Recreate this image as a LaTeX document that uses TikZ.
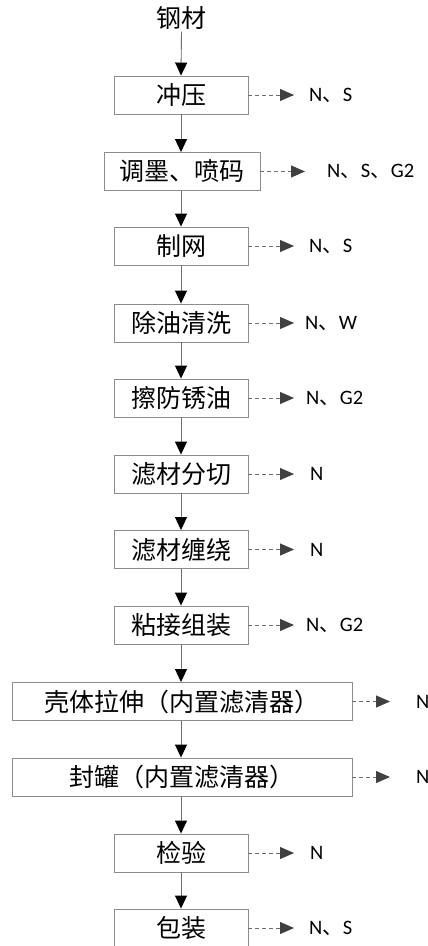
\documentclass[tikz,border=0pt]{standalone}
\usepackage{fontspec}
\setmainfont{Noto Sans CJK SC}
\newfontfamily\lat{Carlito}
\newfontfamily\cjk{Noto Sans CJK SC}
\usetikzlibrary{arrows.meta}
\definecolor{linegray}{HTML}{6E6E6E}
\definecolor{boxgray}{HTML}{8C8C8C}
\definecolor{tipgray}{HTML}{404040}
\newcommand{\dn}{{\cjk 、}}
\begin{document}
\begin{tikzpicture}[x=1pt,y=-1pt,
  proc/.style={draw=boxgray, line width=0.9pt, minimum height=38pt, inner sep=0pt,
    font=\fontsize{25}{25}\selectfont},
  narrow/.style={proc, minimum width=134pt},
  flow/.style={draw=linegray, line width=0.9pt, -{Triangle[length=13pt,width=12pt,color=black]}},
  emit/.style={draw=linegray, line width=0.9pt, dash pattern=on 4pt off 3pt,
    -{Triangle[length=14pt,width=12pt,color=tipgray]}},
  lab/.style={anchor=west, inner sep=0pt, font=\lat\fontsize{20.5}{20.5}\selectfont}]
\useasboundingbox (0,0) rectangle (428,946);

\node[inner sep=0pt, font=\fontsize{25}{25}\selectfont] (s0) at (181.5,18) {钢材};
\node[narrow] (b1) at (181,95) {冲压};
\node[proc, minimum width=156pt] (b2) at (182,171.5) {调墨、喷码};
\node[narrow] (b3) at (181,246) {制网};
\node[narrow] (b4) at (181,323) {除油清洗};
\node[narrow] (b5) at (181,398) {擦防锈油};
\node[narrow] (b6) at (181,474) {滤材分切};
\node[narrow] (b7) at (181,549.5) {滤材缠绕};
\node[narrow] (b8) at (181,625) {粘接组装};
\node[proc, minimum width=340pt] (b9) at (182,701.5) {壳体拉伸（内置滤清器）};
\node[proc, minimum width=340pt] (b10) at (182,777) {封罐（内置滤清器）};
\node[narrow] (b11) at (181,853) {检验};
\node[narrow] (b12) at (181,928) {包装};

\node[lab] (l1) at (309,95) {N\dn S};
\node[lab] (l2) at (327,171.5) {N\dn S\dn G2};
\node[lab] (l3) at (309,246) {N\dn S};
\node[lab] (l4) at (305,323) {N\dn W};
\node[lab] (l5) at (306,398) {N\dn G2};
\node[lab] (l6) at (310,474) {N};
\node[lab] (l7) at (310,549.5) {N};
\node[lab] (l8) at (306,625) {N\dn G2};
\node[lab] (l9) at (416,701.5) {N};
\node[lab] (l10) at (416,777) {N};
\node[lab] (l11) at (310,853) {N};
\node[lab] (l12) at (309,928) {N\dn S};

\draw[flow] (s0.south) ++(0,2) -- (b1.north);
\foreach \a/\b in {b1/b2,b2/b3,b3/b4,b4/b5,b5/b6,b6/b7,b7/b8,b8/b9,b9/b10,b10/b11,b11/b12}
  \draw[flow] (\a.south -| b1.center) -- (\b.north -| b1.center);

\foreach \i/\g in {1/15,3/15,4/11,5/12,6/16,7/16,8/12,11/16,12/15,2/22,9/26,10/26}
  \draw[emit] (b\i.east) -- ([xshift=-\g pt]b\i.east -| l\i.west);
\end{tikzpicture}
\end{document}
